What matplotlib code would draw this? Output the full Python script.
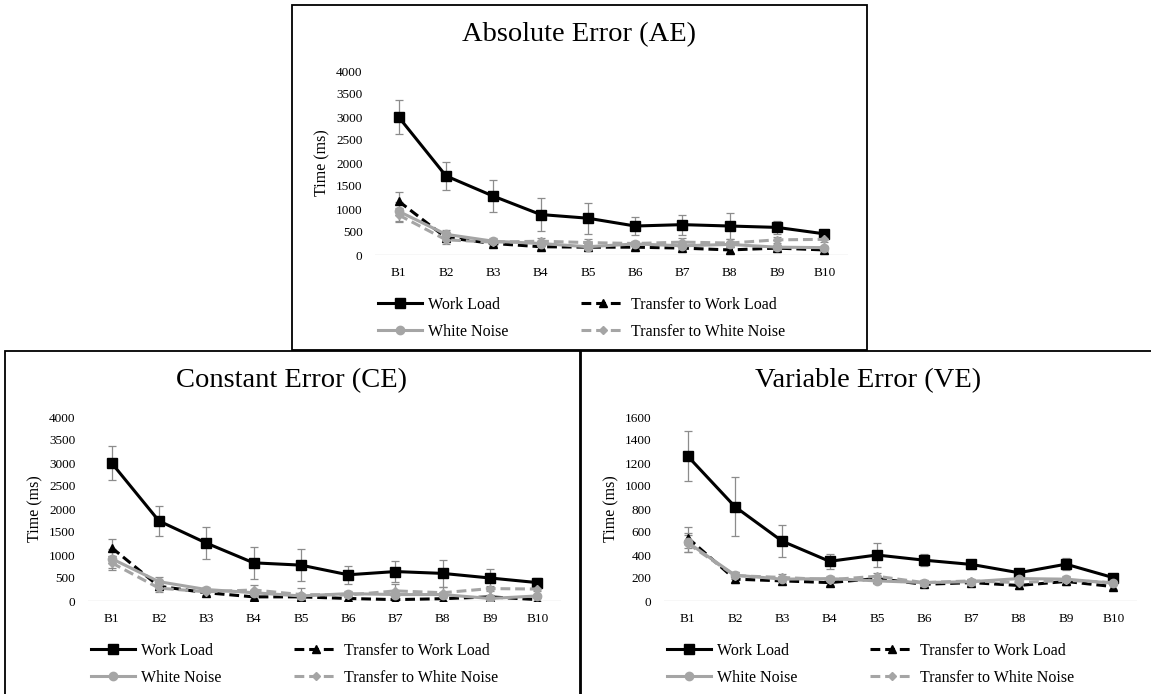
import matplotlib
matplotlib.use('Agg')
import matplotlib.pyplot as plt
from matplotlib.patches import Rectangle
import numpy as np

plt.rcParams['font.family'] = ['Liberation Serif', 'DejaVu Serif']

# --- dane ---
blocks = ['B1', 'B2', 'B3', 'B4', 'B5', 'B6', 'B7', 'B8', 'B9', 'B10']
series_names = ['Work Load', 'Transfer to Work Load', 'White Noise', 'Transfer to White Noise']

ae_work = [3000, 1720, 1280, 880, 800, 630, 660, 630, 600, 460]
ae_work_err = [380, 310, 350, 350, 340, 200, 220, 280, 150, 80]
ae_tr_work = [1170, 380, 250, 180, 170, 170, 150, 110, 150, 110]
ae_tr_work_err = [190, 80, 60, 50, 40, 40, 40, 60, 40, 30]
ae_noise = [950, 450, 300, 250, 180, 240, 200, 230, 170, 160]
ae_noise_err = [200, 100, 60, 60, 50, 50, 60, 60, 40, 30]
ae_tr_noise = [870, 330, 280, 300, 270, 250, 280, 260, 330, 340]
ae_tr_noise_err = [150, 80, 60, 80, 80, 50, 80, 80, 60, 50]

ce_work = [3000, 1740, 1260, 830, 780, 570, 640, 600, 500, 400]
ce_work_err = [375, 320, 355, 350, 340, 200, 225, 290, 200, 100]
ce_tr_work = [1160, 320, 180, 90, 90, 55, 30, 50, 90, 30]
ce_tr_work_err = [190, 80, 60, 50, 50, 40, 40, 50, 40, 30]
ce_noise = [920, 420, 250, 180, 110, 160, 140, 140, 55, 110]
ce_noise_err = [200, 100, 60, 60, 50, 50, 60, 60, 40, 30]
ce_tr_noise = [830, 280, 200, 240, 140, 130, 220, 180, 270, 260]
ce_tr_noise_err = [150, 80, 60, 100, 150, 50, 150, 120, 60, 50]

ve_work = [1260, 820, 520, 345, 400, 355, 318, 246, 320, 203]
ve_work_err = [215, 255, 140, 65, 108, 50, 40, 25, 50, 20]
ve_tr_work = [550, 190, 175, 160, 195, 145, 160, 135, 170, 125]
ve_tr_work_err = [90, 30, 25, 20, 25, 20, 20, 30, 25, 20]
ve_noise = [510, 225, 190, 195, 175, 160, 168, 195, 190, 155]
ve_noise_err = [80, 30, 25, 20, 20, 20, 20, 25, 20, 20]
ve_tr_noise = [500, 220, 205, 185, 215, 160, 175, 160, 180, 160]
ve_tr_noise_err = [70, 30, 30, 20, 30, 20, 20, 25, 40, 25]

W, H = 1151, 694
BOX_W, BOX_H = 575, 345


def fx(x):
    return x / W


def fy(y):
    return 1 - y / H


# styl serii: kolor, linia, marker, rozmiar markera
styles = [
    ('black', '-', 's', 6.5),
    ('black', (0, (3.2, 1.6)), '^', 6),
    ('#a5a5a5', '-', 'o', 6),
    ('#a5a5a5', (0, (3.2, 1.6)), 'D', 4.5),
]


def draw_panel(fig, bx, by, title, ymax, ystep, data):
    # ramka panelu
    fig.patches.append(Rectangle((fx(bx), fy(by + BOX_H)), BOX_W / W, BOX_H / H,
                                 transform=fig.transFigure, fill=False,
                                 edgecolor='black', linewidth=1.3, zorder=0))
    fig.text(fx(bx + 287), fy(by + 30), title, ha='center', va='center', fontsize=20.5)
    fig.text(fx(bx + 30), fy(by + 158), 'Time (ms)', ha='center', va='center',
             rotation=90, fontsize=11.5)

    ax = fig.add_axes([fx(bx + 83), fy(by + 250), 473 / W, 184 / H])
    x = np.arange(len(blocks))
    handles = []
    for name, (vals, errs), (color, ls, marker, ms) in zip(series_names, data, styles):
        ax.errorbar(x, vals, yerr=errs, fmt='none', ecolor='#8c8c8c',
                    elinewidth=0.9, capsize=3, capthick=0.9, zorder=2)
        line, = ax.plot(x, vals, color=color, linestyle=ls, linewidth=2.2,
                        marker=marker, markersize=ms, label=name, zorder=3)
        handles.append(line)

    ax.axhline(0, color='#d9d9d9', linewidth=1, zorder=1)
    ax.set_xlim(-0.5, len(blocks) - 0.5)
    ax.set_ylim(0, ymax)
    ax.set_yticks(np.arange(0, ymax + 1, ystep))
    ax.set_xticks(x)
    ax.set_xticklabels(blocks)
    ax.tick_params(length=0, labelsize=9.5, pad=9)
    for s in ax.spines.values():
        s.set_visible(False)
    ax.patch.set_alpha(0)

    # legenda w dwóch kolumnach: (WL, TWL) / (WN, TWN)
    order = [0, 2, 1, 3]
    ax.legend([handles[i] for i in order], [series_names[i] for i in order],
              ncol=2, frameon=False, fontsize=11.5, handlelength=2.75,
              handletextpad=0.35, columnspacing=4.6, labelspacing=0.68,
              borderpad=0, borderaxespad=0, loc='upper left',
              bbox_to_anchor=(fx(bx + 86), fy(by + 292)),
              bbox_transform=fig.transFigure)
    return ax


def main():
    fig = plt.figure(figsize=(W / 100, H / 100), dpi=100)

    draw_panel(fig, 292, 5, 'Absolute Error (AE)', 4000, 500,
               [(ae_work, ae_work_err), (ae_tr_work, ae_tr_work_err),
                (ae_noise, ae_noise_err), (ae_tr_noise, ae_tr_noise_err)])
    draw_panel(fig, 5, 351, 'Constant Error (CE)', 4000, 500,
               [(ce_work, ce_work_err), (ce_tr_work, ce_tr_work_err),
                (ce_noise, ce_noise_err), (ce_tr_noise, ce_tr_noise_err)])
    draw_panel(fig, 581, 351, 'Variable Error (VE)', 1600, 200,
               [(ve_work, ve_work_err), (ve_tr_work, ve_tr_work_err),
                (ve_noise, ve_noise_err), (ve_tr_noise, ve_tr_noise_err)])

    fig.savefig('out.png', dpi=100)
    plt.close(fig)


if __name__ == "__main__":
    main()
